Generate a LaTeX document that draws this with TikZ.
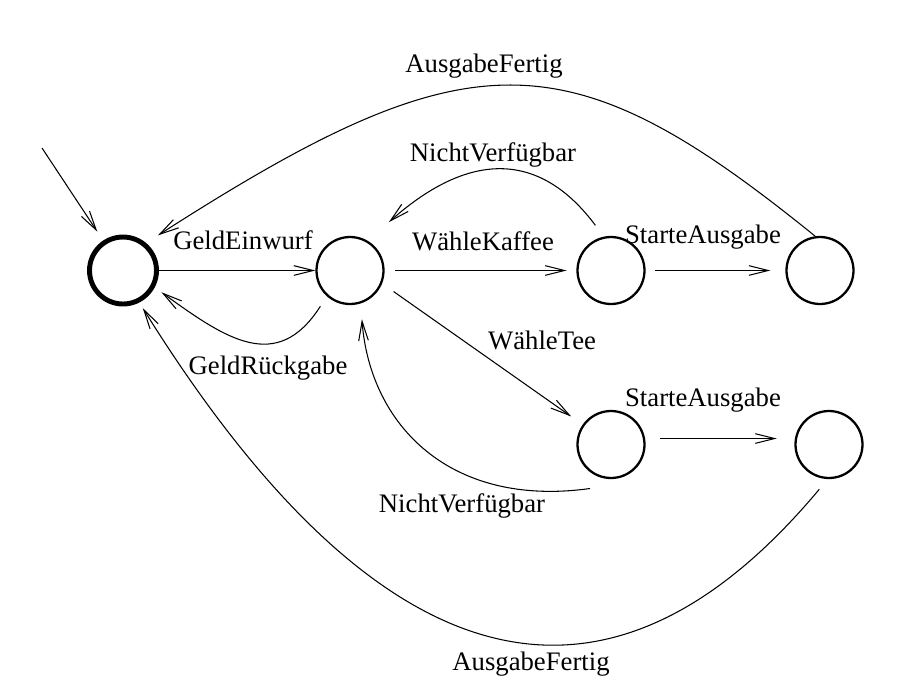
\documentclass[tikz,border=0pt]{standalone}
\usepackage{fontspec}
\setmainfont{Liberation Serif}
\usetikzlibrary{arrows.meta}

\begin{document}
\begin{tikzpicture}[x=0.02cm, y=-0.02cm, >={Straight Barb[length=11pt,width=5.5pt]},
  zustand/.style={circle, draw, line width=1.3pt, minimum size=1.34cm, inner sep=0pt},
  kante/.style={->, line width=0.6pt},
  lbl/.style={font=\fontsize{15.2}{18}\selectfont, inner sep=0pt}]
  \useasboundingbox (0,0) rectangle (921,681);

  % Zustaende
  \node[zustand, line width=2.8pt] (bereit) at (123,270.5) {};
  \node[zustand] (bezahlt) at (350,270.5) {};
  \node[zustand] (kaffee) at (611,270.5) {};
  \node[zustand] (kaffeeAus) at (820,270.5) {};
  \node[zustand] (tee) at (611,444.5) {};
  \node[zustand] (teeAus) at (829,444.5) {};

  % Startpfeil
  \coordinate (einstieg) at (42,148);
  \draw[kante, shorten >=6pt] (einstieg) -- (bereit);

  % gerade Uebergaenge
  \draw[kante] (bereit) -- (bezahlt);
  \draw[kante, shorten <=6pt, shorten >=5.5pt] (bezahlt) -- (kaffee);
  \draw[kante, shorten <=5.5pt, shorten >=8.5pt] (kaffee) -- (kaffeeAus);
  \draw[kante, shorten <=8pt, shorten >=8pt] (bezahlt.-22) -- (tee);
  \draw[kante, shorten <=8pt, shorten >=10pt] ([yshift=3.4pt]tee.east) -- ([yshift=3.4pt]teeAus.west);

  % Rueckwege
  \draw[kante, shorten <=6.8pt, shorten >=4.7pt] (bezahlt.228)
    .. controls (277,374) and (226,339) .. (bereit.-28);
  \draw[kante, shorten <=8pt, shorten >=16pt] (kaffee.102)
    .. controls (546,159) and (478,143) .. (bezahlt.59);
  \draw[kante, shorten >=9pt] ([shift={(-21,44)}]tee.center)
    .. controls (450,508) and (370,425) .. (bezahlt.-72);
  \draw[kante, shorten >=8pt] (kaffeeAus.98)
    .. controls (567,35) and (470,35) .. (bereit.50);
  \draw[kante, shorten <=7.5pt, shorten >=3.7pt] (teeAus.268)
    .. controls (674,663) and (443,790) .. (bereit.-63);

  % Beschriftungen
  \node[lbl] (lEinwurf) at (243,240) {GeldEinwurf};
  \node[lbl] (lKaffee) at (483,241) {WähleKaffee};
  \node[lbl] (lStartK) at (703,237) {StarteAusgabe};
  \node[lbl] (lTee) at (542,340) {WähleTee};
  \node[lbl] (lStartT) at (703,400) {StarteAusgabe};
  \node[lbl] (lRueck) at (268,368) {GeldRückgabe};
  \node[lbl] (lNichtO) at (493,155) {NichtVerfügbar};
  \node[lbl] (lNichtU) at (462,506) {NichtVerfügbar};
  \node[lbl] (lFertigO) at (484,66) {AusgabeFertig};
  \node[lbl] (lFertigU) at (531,664) {AusgabeFertig};
\end{tikzpicture}
\end{document}
